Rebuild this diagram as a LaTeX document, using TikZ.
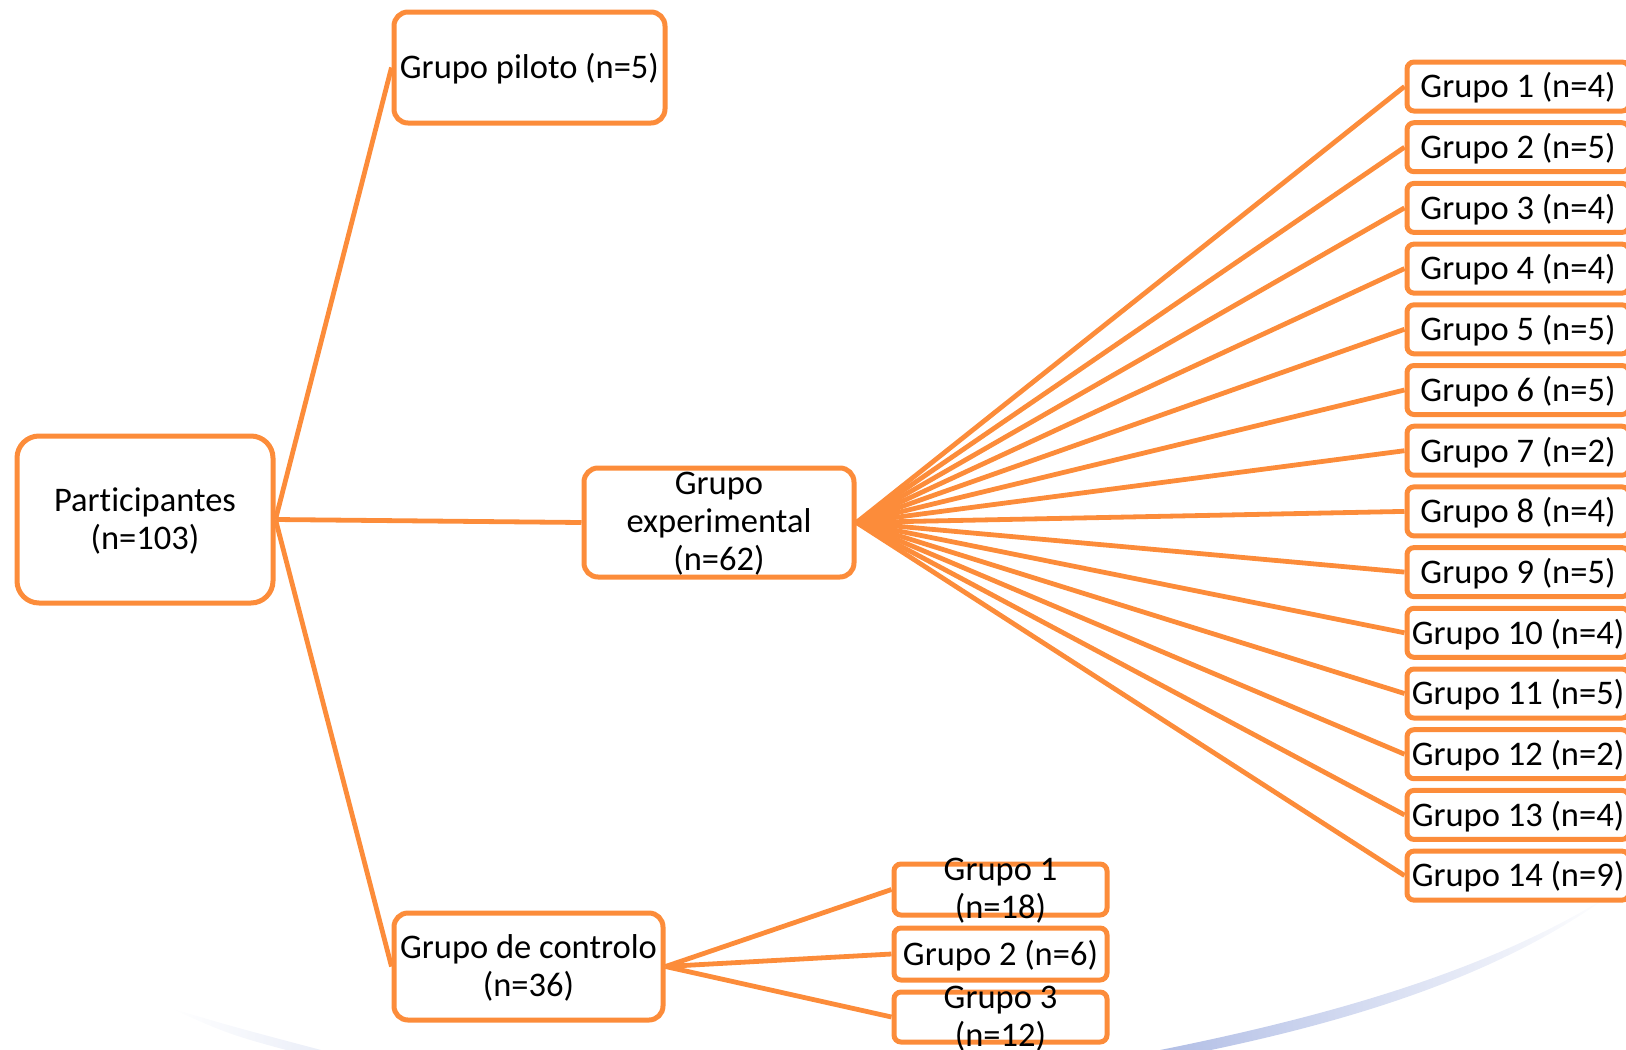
\documentclass[tikz,border=0pt]{standalone}
\usepackage{fontspec}
\setmainfont{Carlito}[Ligatures=NoCommon]
\usepackage{tikz}
\usetikzlibrary{positioning,calc}

\definecolor{grporange}{RGB}{252,140,58}
\definecolor{arcblue}{RGB}{176,189,229}
\definecolor{arcpale}{RGB}{232,236,247}

\tikzset{
  box/.style={draw=grporange, line width=5pt, fill=white, inner sep=0pt},
  txt/.style={font=\fontsize{34.5}{38}\selectfont, align=center, inner sep=0pt, text=black, yshift=-1.5pt},
  conn/.style={draw=grporange, line width=4.8pt},
}

\begin{document}
\begin{tikzpicture}[x=1pt,y=-1pt]
    % Canvas
    \useasboundingbox (0,0) rectangle (1626,1050);
    \clip (0,0) rectangle (1626,1050);

    % Background arc
    \shade[left color=white, right color=arcpale] (170,1008) .. controls (232,1036) .. (340,1064) -- (340,1055) .. controls (234,1027) .. (170,1008) -- cycle;
    \shade[left color=arcblue, right color=white] (1150,1062) .. controls (1350,1025) and (1500,975) .. (1610,895) .. controls (1498,965) and (1348,1013) .. (1150,1052) -- cycle;

    % Participantes
    \node[box, minimum width=256pt, minimum height=167pt, rounded corners=22pt] (part) at (145,519.5) {};

    % Grupo piloto
    \node[box, minimum width=271pt, minimum height=111pt, rounded corners=14pt] (pil) at (529.5,67.5) {};

    % Grupo experimental
    \node[box, minimum width=270pt, minimum height=109pt, rounded corners=14pt] (expgrp) at (719,522.5) {};

    % Grupo de controlo
    \node[box, minimum width=269pt, minimum height=107pt, rounded corners=14pt] (ctlgrp) at (528.5,966.5) {};

    % Main branches
    \draw[conn] (part.east) -- (pil.west);
    \draw[conn] (part.east) -- (expgrp.west);
    \draw[conn] (part.east) -- (ctlgrp.west);

    % Experimental subgroups
    \foreach \i/\n in {1/4,2/5,3/4,4/4,5/5,6/5,7/2,8/4,9/5,10/4,11/5,12/2,13/4,14/9} {
      \node[box, minimum width=222pt, minimum height=49pt, rounded corners=7pt] (exp\i) at (1518,25.8+60.7*\i) {};
      \draw[conn] (expgrp.east) -- (exp\i.west);
      \node[txt] (explbl\i) at (exp\i) {Grupo \i\ (n=\n)};
    }

    % Control subgroups
    \node[box, minimum width=213pt, minimum height=51pt, rounded corners=7pt] (ctl1) at (1000.5,889.5) {};
    \node[box, minimum width=213pt, minimum height=52pt, rounded corners=7pt] (ctl2) at (1000.5,954) {};
    \node[box, minimum width=213pt, minimum height=50pt, rounded corners=7pt] (ctl3) at (1000.5,1017) {};
    \foreach \k in {1,2,3} \draw[conn] (ctlgrp.east) -- (ctl\k.west);

    % Labels
    \node[txt] (partlbl) at (part) {Participantes\\(n=103)};
    \node[txt] (pillbl) at (pil) {Grupo piloto (n=5)};
    \node[txt] (explbl) at (expgrp) {Grupo\\experimental\\(n=62)};
    \node[txt] (ctllbl) at (ctlgrp) {Grupo de controlo\\(n=36)};
    \node[txt] (ctllbl1) at (ctl1) {Grupo 1\\(n=18)};
    \node[txt] (ctllbl2) at (ctl2) {Grupo 2 (n=6)};
    \node[txt] (ctllbl3) at (ctl3) {Grupo 3\\(n=12)};
\end{tikzpicture}
\end{document}
